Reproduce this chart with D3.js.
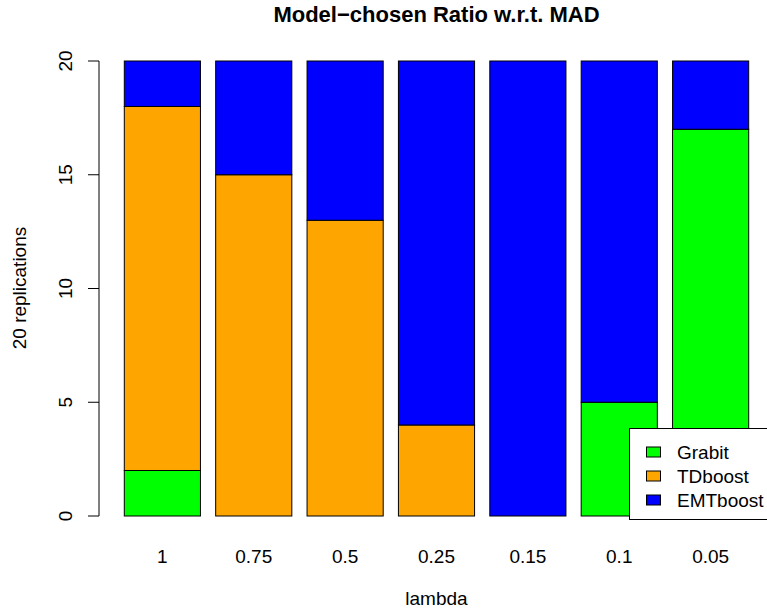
<!DOCTYPE html>
<html>
<head>
<meta charset="utf-8">
<script src="https://cdn.jsdelivr.net/npm/d3@7"></script>
<style>
  body { margin: 0; background: #fff; }
  text { font-family: "Liberation Sans", Arial, sans-serif; fill: #000; }
</style>
</head>
<body>
<div id="chart"></div>
<script>
// Width and height of the page
var width = 767;
var height = 615;

// data
var lambdas = ["1", "0.75", "0.5", "0.25", "0.15", "0.1", "0.05"];
var models = ["Grabit", "TDboost", "EMTboost"];
var grabit = [2, 0, 0, 0, 0, 5, 17];
var tdboost = [16, 15, 13, 4, 0, 0, 0];
var emtboost = [2, 5, 7, 16, 20, 15, 3];
var yTicks = [0, 5, 10, 15, 20];
var colors = ["#00ff00", "#ffa500", "#0000ff"];

// stack table built from the arrays above
var rows = lambdas.map(function(l, i) {
    return { lambda: l, Grabit: grabit[i], TDboost: tdboost[i], EMTboost: emtboost[i] };
});
var series = d3.stack().keys(models)(rows);

var svg = d3.select("#chart")
    .append("svg")
    .attr("width", width)
    .attr("height", height);

// scales (R barplot: space 0.2 between bars)
var xScale = d3.scaleBand()
    .domain(lambdas)
    .range([124.3, 748.7])
    .paddingInner(0.2 / 1.2)
    .paddingOuter(0);

var yScale = d3.scaleLinear()
    .domain([0, 20])
    .range([516, 61]);

// bars
svg.selectAll("g.layer")
    .data(series)
    .enter().append("g")
    .attr("class", "layer")
    .attr("fill", function(d, i) { return colors[i]; })
    .selectAll("rect")
    .data(function(d) { return d; })
    .enter().append("rect")
    .attr("x", function(d) { return xScale(d.data.lambda); })
    .attr("width", xScale.bandwidth())
    .attr("y", function(d) { return yScale(d[1]); })
    .attr("height", function(d) { return yScale(d[0]) - yScale(d[1]); })
    .attr("stroke", "#000")
    .attr("stroke-width", 1);

// y axis, R style
var yAxis = svg.append("g").attr("transform", "translate(99,0)");
yAxis.append("line")
    .attr("x1", 0).attr("x2", 0)
    .attr("y1", yScale(0)).attr("y2", yScale(20))
    .attr("stroke", "#000");
yAxis.selectAll("line.tick")
    .data(yTicks)
    .enter().append("line")
    .attr("class", "tick")
    .attr("x1", 0).attr("x2", -11)
    .attr("y1", function(d) { return yScale(d); })
    .attr("y2", function(d) { return yScale(d); })
    .attr("stroke", "#000");
yAxis.selectAll("text")
    .data(yTicks)
    .enter().append("text")
    .attr("transform", function(d) { return "translate(-27," + yScale(d) + ") rotate(-90)"; })
    .attr("text-anchor", "middle")
    .style("font-size", "19px")
    .text(function(d) { return d; });

// x labels under bars
svg.selectAll("text.xlab")
    .data(lambdas)
    .enter().append("text")
    .attr("class", "xlab")
    .attr("x", function(d) { return xScale(d) + xScale.bandwidth() / 2; })
    .attr("y", 563)
    .attr("text-anchor", "middle")
    .style("font-size", "19px")
    .text(function(d) { return d; });

// titles
svg.append("text")
    .attr("x", 436.5)
    .attr("y", 22)
    .attr("text-anchor", "middle")
    .style("font-size", "22px")
    .style("font-weight", "bold")
    .text("Model\u2212chosen Ratio w.r.t. MAD");

svg.append("text")
    .attr("x", 436.5)
    .attr("y", 605)
    .attr("text-anchor", "middle")
    .style("font-size", "19px")
    .text("lambda");

svg.append("text")
    .attr("transform", "translate(26,288) rotate(-90)")
    .attr("text-anchor", "middle")
    .style("font-size", "19px")
    .text("20 replications");

// legend
var legend = svg.append("g");
legend.append("rect")
    .attr("x", 629.5).attr("y", 428.5)
    .attr("width", 160).attr("height", 91)
    .attr("fill", "#fff")
    .attr("stroke", "#000");
var items = legend.selectAll("g.item")
    .data(models)
    .enter().append("g")
    .attr("class", "item")
    .attr("transform", function(d, i) { return "translate(0," + (452 + i * 24) + ")"; });
items.append("rect")
    .attr("x", 646.5).attr("y", -5)
    .attr("width", 14).attr("height", 10)
    .attr("fill", function(d, i) { return colors[i]; })
    .attr("stroke", "#000");
items.append("text")
    .attr("x", 677)
    .attr("y", 6.5)
    .style("font-size", "19px")
    .text(function(d) { return d; });
</script>
</body>
</html>
